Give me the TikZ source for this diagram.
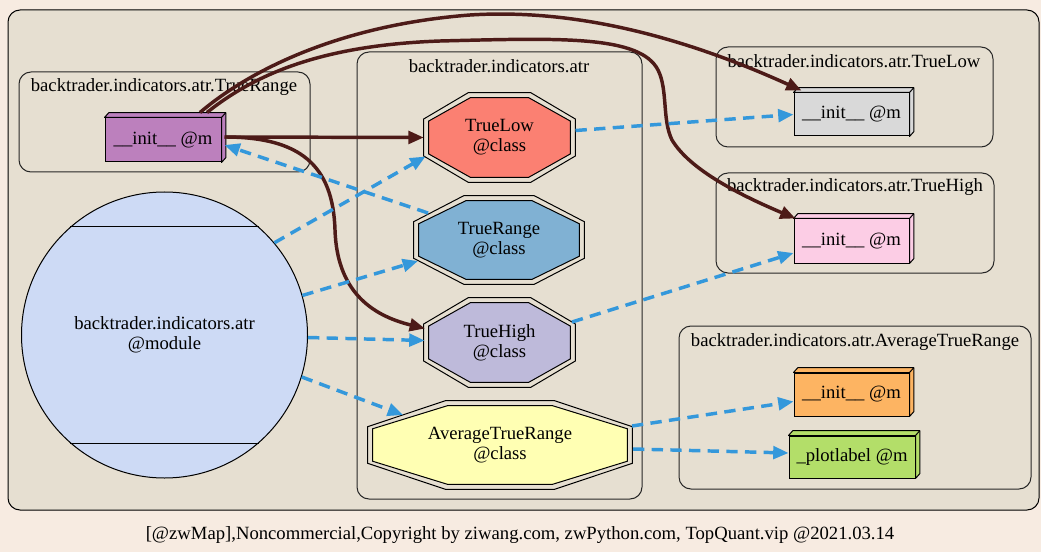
\documentclass[tikz,border=0pt]{standalone}
\usepackage{fontspec}
\setmainfont{Liberation Serif}
\usetikzlibrary{arrows.meta,calc}
\definecolor{pagebg}{HTML}{F7EBE1}
\definecolor{clbg}{HTML}{E6DFD1}
\definecolor{ebrown}{HTML}{4D1B18}
\definecolor{eblue}{HTML}{3498DB}
\definecolor{cTL}{HTML}{FB8072}
\definecolor{cTR}{HTML}{80B1D3}
\definecolor{cTH}{HTML}{BEBADA}
\definecolor{cATR}{HTML}{FFFFB3}
\definecolor{cTRi}{HTML}{BC80BD}
\definecolor{cTLi}{HTML}{D9D9D9}
\definecolor{cTHi}{HTML}{FCCDE5}
\definecolor{cATRi}{HTML}{FDB462}
\definecolor{cPL}{HTML}{B3DE69}
\definecolor{cMod}{HTML}{CDDAF5}
\pgfdeclarelayer{bg}
\pgfdeclarelayer{shapes}
\pgfsetlayers{bg,shapes,main}
\newcommand\octpath[3]{%
  \path let \p1=(#1.south west), \p2=(#1.north east),
    \n1={0.293*(\x2-\x1+2*#2)}, \n2={0.293*(\y2-\y1+2*#2)} in
    [#3] ({\x1-#2+\n1*1pt},{\y2+#2}) -- ({\x2+#2-\n1*1pt},{\y2+#2})
    -- ({\x2+#2},{\y2+#2-\n2*1pt}) -- ({\x2+#2},{\y1-#2+\n2*1pt})
    -- ({\x2+#2-\n1*1pt},{\y1-#2}) -- ({\x1-#2+\n1*1pt},{\y1-#2})
    -- ({\x1-#2},{\y1-#2+\n2*1pt}) -- ({\x1-#2},{\y2+#2-\n2*1pt}) -- cycle;}
\newcommand\dblocta[2]{%
  \octpath{#1}{3.75pt}{draw=black, line width=0.75pt}
  \octpath{#1}{0pt}{draw=black, line width=0.75pt, fill=#2}}
\newcommand\boxthreed[2]{%
  \filldraw[fill=#2, draw=black, line width=0.75pt, line join=round]
    (#1.north west) -- ++(3.2pt,3.6pt) -- ([shift={(3.2pt,3.6pt)}]#1.north east)
    -- ([shift={(3.2pt,3.6pt)}]#1.south east) -- (#1.south east) -- (#1.north east) -- cycle;
  \draw[line width=0.75pt] (#1.north east) -- ++(3.2pt,3.6pt);}
\begin{document}
\begin{tikzpicture}[x=0.75pt,y=-0.75pt,
  font=\fontsize{14}{15}\selectfont,
  cluster/.style={draw=black, line width=0.75pt, rounded corners=9pt, fill=clbg},
  plain/.style={draw=black!85, line width=0.75pt, rounded corners=9pt},
  clabel/.style={inner sep=0pt},
  mbox/.style={draw=black, line width=0.75pt, inner sep=0pt, fill=#1},
  octnode/.style={inner sep=0pt, align=center},
  bedge/.style={draw=ebrown, line width=2.6pt, -{Triangle[length=11.5pt,width=9.5pt]}},
  dedge/.style={draw=eblue, line width=2.6pt, dash pattern=on 8.5pt off 5.5pt,
    -{Triangle[length=11.5pt,width=9.5pt]}},
]
\useasboundingbox (0,0) rectangle (1041,552);
\begin{pgfonlayer}{bg}
\fill[pagebg] (0,0) rectangle (1041,552);
\draw[cluster] (8,10) rectangle (1039,510);
\draw[plain] (19,72) rectangle (310,172);
\draw[plain] (357,52) rectangle (642,499);
\draw[plain] (716,47) rectangle (993,147);
\draw[plain] (716,173) rectangle (994,273);
\draw[plain] (679,326) rectangle (1031,489);
\end{pgfonlayer}
% cluster labels
\node[clabel] (lTR) at (164,87) {backtrader.indicators.atr.TrueRange};
\node[clabel] (lATRmod) at (499,66) {backtrader.indicators.atr};
\node[clabel] (lTL) at (854,61) {backtrader.indicators.atr.TrueLow};
\node[clabel] (lTH) at (855,187) {backtrader.indicators.atr.TrueHigh};
\node[clabel] (lAV) at (855,342) {backtrader.indicators.atr.AverageTrueRange};
% method boxes
\node[mbox=cTRi, minimum width=87pt, minimum height=33pt] (trinit) at (163,140) {\_\_init\_\_ @m};
\node[mbox=cTLi, minimum width=86.25pt, minimum height=32.25pt] (tlinit) at (851.5,114.5) {\_\_init\_\_ @m};
\node[mbox=cTHi, minimum width=86.25pt, minimum height=33pt] (thinit) at (851.5,241) {\_\_init\_\_ @m};
\node[mbox=cATRi, minimum width=86.25pt, minimum height=32.25pt] (atrinit) at (851.5,394.5) {\_\_init\_\_ @m};
\node[mbox=cPL, minimum width=94.5pt, minimum height=31.5pt] (plot) at (852,457) {\_plotlabel @m};
% module
\node[circle, draw=black, line width=0.75pt, fill=cMod, minimum size=214.5pt, inner sep=0pt, align=center]
  (mod) at (164.5,335) {backtrader.indicators.atr\\@module};
\draw[line width=0.75pt] (mod.131) -- (mod.49);
\draw[line width=0.75pt] (mod.-131) -- (mod.-49);
% classes
\node[octnode, minimum width=105.75pt, minimum height=59.25pt] (tl) at (499.5,137.5) {TrueLow\\@class};
\node[octnode, minimum width=120pt, minimum height=58.5pt] (tr) at (499,240) {TrueRange\\@class};
\node[octnode, minimum width=105.75pt, minimum height=59.25pt] (th) at (499.5,342.5) {TrueHigh\\@class};
\node[octnode, minimum width=190.5pt, minimum height=58.5pt] (atr) at (500,445) {AverageTrueRange\\@class};
\begin{pgfonlayer}{shapes}
\dblocta{tl}{cTL}
\dblocta{tr}{cTR}
\dblocta{th}{cTH}
\dblocta{atr}{cATR}
\boxthreed{trinit}{cTRi}
\boxthreed{tlinit}{cTLi}
\boxthreed{thinit}{cTHi}
\boxthreed{atrinit}{cATRi}
\boxthreed{plot}{cPL}
\end{pgfonlayer}
% brown edges
\draw[bedge] ([shift={(3,-3)}]trinit.east) -- ([shift={(-5,0)}]tl.west);
\draw[bedge] ([shift={(3,-3)}]trinit.east) .. controls (300,137) and (333,165) .. (335,230)
  .. controls (337,290) and (370,315) .. ([shift={(-74.5,-14)}]th.center);
\draw[bedge] ([shift={(37,-5)}]trinit.north) .. controls (250,70) and (340,25) .. (470,15)
  .. controls (580,8) and (690,40) .. ([shift={(8,-2)}]tlinit.north west);
\draw[bedge] ([shift={(44,-5)}]trinit.north) .. controls (260,70) and (330,45) .. (440,41)
  .. controls (560,38) and (640,35) .. (658,70)
  .. controls (668,90) and (662,120) .. (672,140)
  .. controls (690,170) and (740,195) .. ([shift={(2,0)}]thinit.north west);
% blue dashed edges
\draw[dedge] ([shift={(76,-7)}]tl.center) -- (tlinit.west);
\draw[dedge] ([shift={(-71,-27)}]tr.center) -- ([shift={(3,5)}]trinit.east);
\draw[dedge] (mod.40) -- ([shift={(-74,19)}]tl.center);
\draw[dedge] (mod.16) -- ([shift={(-81,21)}]tr.center);
\draw[dedge] (mod.-1) -- ([shift={(-75,-2)}]th.center);
\draw[dedge] (mod.-17) -- ([shift={(-97,-30)}]atr.center);
\draw[dedge] ([shift={(72.5,-20.5)}]th.center) -- ([shift={(0,12)}]thinit.west);
\draw[dedge] ([shift={(132,-19)}]atr.center) -- ([shift={(0,7)}]atrinit.west);
\draw[dedge] ([shift={(133,4)}]atr.center) -- ([shift={(0,-4)}]plot.west);
% footer
\node[inner sep=0pt] (foot) at (520,535) {[@zwMap],Noncommercial,Copyright by ziwang.com, zwPython.com, TopQuant.vip @2021.03.14};
\end{tikzpicture}
\end{document}
